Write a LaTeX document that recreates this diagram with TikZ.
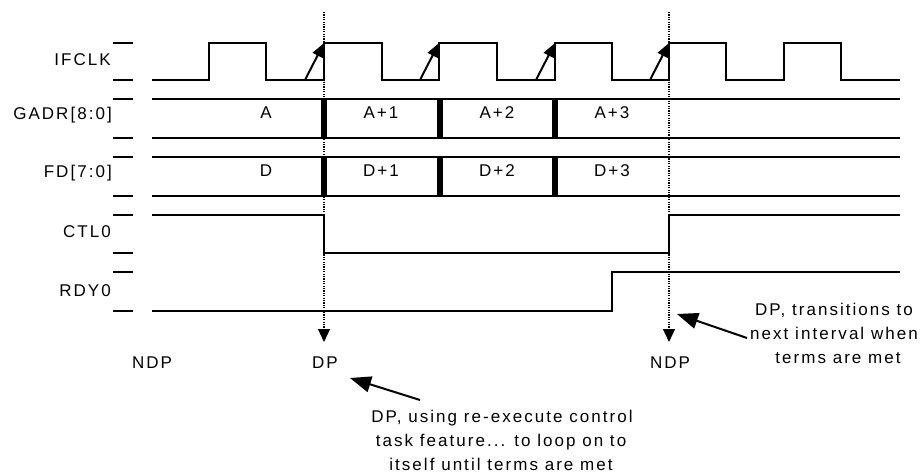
\documentclass[tikz,border=0pt]{standalone}
\usepackage{fontspec}
\newfontfamily\lblfont[LetterSpace=12]{Liberation Sans}
\usetikzlibrary{arrows.meta}
\begin{document}
\begin{tikzpicture}[x=1pt,y=-1pt,
  wave/.style={line width=2pt, line join=miter},
  tickmark/.style={line width=2pt},
  busbar/.style={line width=6pt},
  dotline/.style={line width=1.2pt, dash pattern=on 1.2pt off 1.2pt, -{Triangle[length=13pt,width=12pt]}},
  clkarrow/.style={line width=2pt, -{Triangle[length=14pt,width=11pt]}},
  annarrow/.style={line width=2pt, -{Triangle[length=21pt,width=16pt]}},
  lbl/.style={font=\lblfont\fontsize{17}{20}\selectfont, inner sep=0pt, anchor=base},
  sig/.style={lbl, anchor=base east},
]
\useasboundingbox (0,0) rectangle (924,473);

% signal names
\node[sig] (nclk) at (111,66) {IFCLK};
\node[sig] (ngadr) at (112,119.5) {GADR[8:0]};
\node[sig] (nfd) at (112,177.5) {FD[7:0]};
\node[sig] (nctl) at (111,238) {CTL0};
\node[sig] (nrdy) at (111,296) {RDY0};

% ticks
\foreach \yy in {43,80,99,138,157,196,215,253,272,311}
  \draw[tickmark] (113,\yy) -- (133,\yy);

% IFCLK
\draw[wave] (152,80) -| (209,43) -| (266,80) -| (324,43) -| (382,80) -| (439,43)
  -| (497,80) -| (555,43) -| (612,80) -| (669,43) -| (726,80) -| (784,43) -| (841,80) -- (900,80);
\foreach \xx in {324,439,555,669}
  \draw[clkarrow] (\xx-19,80) -- (\xx,43);

% buses
\foreach \tp/\bt in {99/138,157/196}{
  \draw[wave] (152,\tp) -- (900,\tp);
  \draw[wave] (152,\bt) -- (900,\bt);
  \foreach \xx in {324,440,555}
    \draw[busbar] (\xx,\tp) -- (\xx,\bt);
}
\node[lbl] (ga) at (266,119) {A};
\node[lbl] (ga1) at (381,119) {A+1};
\node[lbl] (ga2) at (497,119) {A+2};
\node[lbl] (ga3) at (612,119) {A+3};
\node[lbl] (fd0) at (266,177) {D};
\node[lbl] (fd1) at (381,177) {D+1};
\node[lbl] (fd2) at (497,177) {D+2};
\node[lbl] (fd3) at (612,177) {D+3};

% CTL0, RDY0
\draw[wave] (152,215) -| (324,253) -| (669,215) -- (900,215);
\draw[wave] (152,311) -| (612,272) -- (900,272);

% dotted markers
\coordinate (d1top) at (324,12);
\coordinate (d1bot) at (324,342);
\coordinate (d2top) at (669,12);
\coordinate (d2bot) at (669,342);
\draw[dotline] (d1top) -- (d1bot);
\draw[dotline] (d2top) -- (d2bot);

\node[lbl] (ndp1) at (152,368) {NDP};
\node[lbl] (dp) at (325,368) {DP};
\node[lbl] (ndp2) at (670,368) {NDP};

% annotations
\node[lbl] (al1) at (502,422) {DP, using re-execute control};
\node[lbl] (al2) at (501,446) {task feature... to loop on to};
\node[lbl] (al3) at (501,470) {itself until terms are met};
\coordinate (alt) at (420,400);
\coordinate (alh) at (350,378);
\draw[annarrow] (alt) -- (alh);

\node[lbl] (ar1) at (834,315) {DP, transitions to};
\node[lbl] (ar2) at (834,339) {next interval when};
\node[lbl] (ar3) at (838,363) {terms are met};
\coordinate (art) at (747,338);
\coordinate (arh) at (677,314);
\draw[annarrow] (art) -- (arh);
\end{tikzpicture}
\end{document}
